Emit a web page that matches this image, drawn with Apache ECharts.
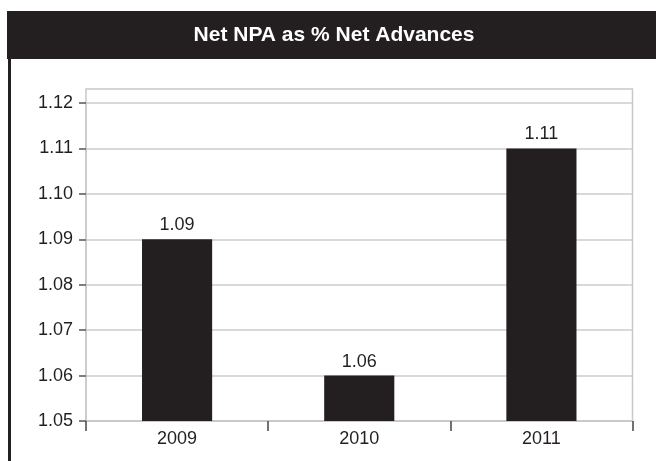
<!DOCTYPE html>
<html>
<head>
<meta charset="utf-8">
<script src="https://cdn.jsdelivr.net/npm/echarts@6/dist/echarts.min.js"></script>
<style>
html,body{margin:0;padding:0;background:#fff;}
#c{width:656px;height:461px;}
</style>
</head>
<body>
<div id="c"></div>
<script>
const titleText = 'Net NPA as % Net Advances';
const categories = ['2009', '2010', '2011'];
const values = [1.09, 1.06, 1.11];
const yMin = 1.05, yMax = 1.12, yStep = 0.01;

const chart = echarts.init(document.getElementById('c'), null, {renderer: 'canvas'});
const FONT = '"Liberation Sans", Arial, sans-serif';
const DARK = '#231f20';
const GRID_L = 86, GRID_T = 103, GRID_R = 23.5, GRID_B = 40;

chart.setOption({
  animation: false,
  backgroundColor: '#ffffff',
  textStyle: {fontFamily: FONT},
  graphic: [
    {type: 'rect', z: 0, shape: {x: 7, y: 11, width: 649, height: 48}, style: {fill: DARK}},
    {type: 'rect', z: 0, shape: {x: 8, y: 59, width: 3, height: 402}, style: {fill: DARK}},
    {type: 'text', z: 1, x: 334, y: 35.5,
      style: {text: titleText, fill: '#ffffff', font: 'bold 21px ' + FONT, align: 'center', verticalAlign: 'middle'}},
    {type: 'rect', z: 0, shape: {x: 86, y: 89, width: 546.5, height: 332}, style: {fill: 'none', stroke: '#c8c8c8', lineWidth: 1.5}}
  ],
  grid: {left: GRID_L, top: GRID_T, right: GRID_R, bottom: GRID_B, containLabel: false},
  xAxis: {
    type: 'category',
    data: categories,
    boundaryGap: true,
    axisLine: {show: true, lineStyle: {color: '#c8c8c8', width: 1.5}},
    axisTick: {show: true, alignWithLabel: false, length: 10, lineStyle: {color: '#444', width: 1.5}},
    axisLabel: {color: DARK, fontSize: 18, fontFamily: FONT, margin: 9}
  },
  yAxis: {
    type: 'value',
    min: yMin, max: yMax, interval: yStep,
    axisLine: {show: true, lineStyle: {color: '#c8c8c8', width: 1.5}},
    axisTick: {show: true, inside: false, length: 7, lineStyle: {color: '#555', width: 1.5}},
    axisLabel: {color: DARK, fontSize: 18, fontFamily: FONT, margin: 13,
      formatter: v => v.toFixed(2)},
    splitLine: {show: true, lineStyle: {color: '#cccccc', width: 1.5}}
  },
  series: [{
    type: 'bar',
    data: values,
    barWidth: '38.5%',
    itemStyle: {color: DARK},
    label: {show: true, position: 'top', distance: 5, color: DARK, fontSize: 18, fontFamily: FONT,
      formatter: p => p.value.toFixed(2)}
  }]
});
</script>
</body>
</html>
